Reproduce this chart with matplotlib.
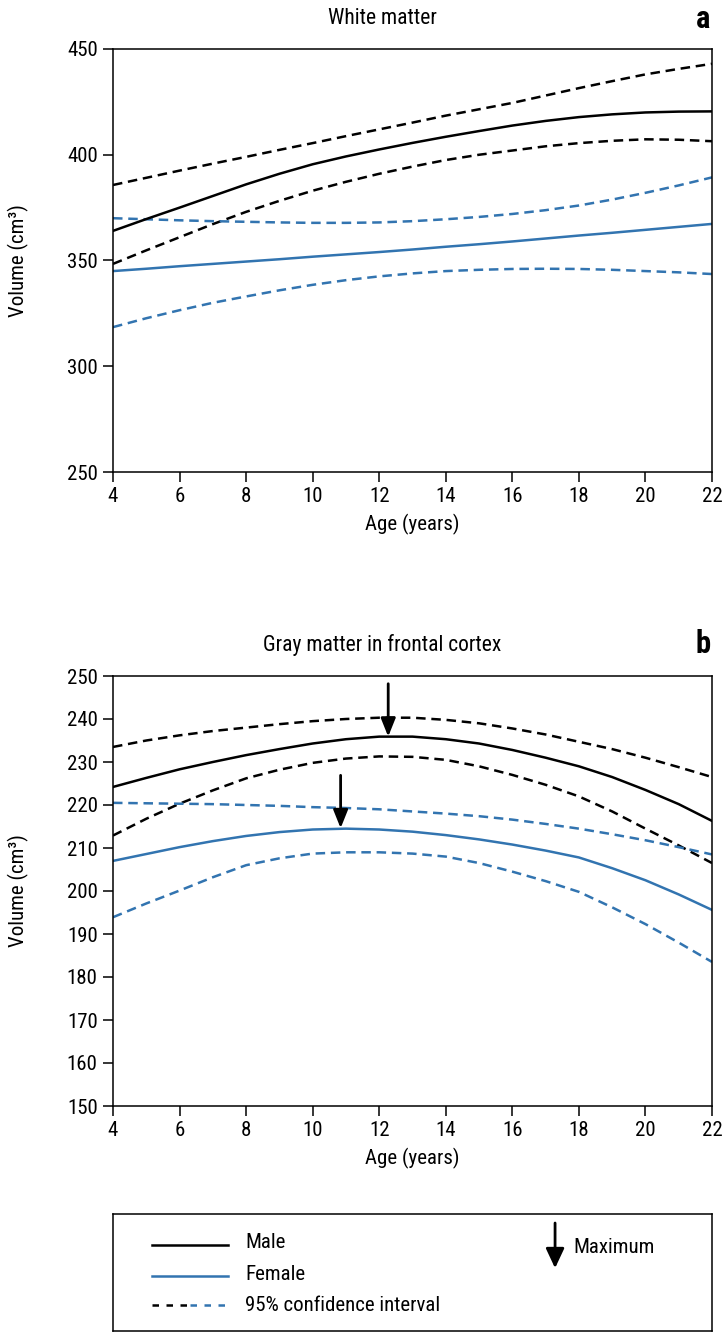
import matplotlib
matplotlib.use("Agg")
import matplotlib.pyplot as plt

plt.rcParams["font.family"] = ["Roboto Condensed", "Liberation Sans Narrow",
                               "Liberation Sans", "DejaVu Sans"]

age = list(range(4, 23))

# panel a: white matter volume (cm3)
wm_male = [364, 369.6, 375, 380.5, 386, 391, 395.5, 399.2, 402.5, 405.6,
           408.5, 411.2, 413.8, 416, 417.8, 419.1, 420, 420.4, 420.5]
wm_male_hi = [385.7, 389.1, 392.5, 395.8, 399, 402.3, 405.5, 408.8, 412, 415.2,
              418.5, 421.5, 424.5, 428, 431.5, 434.8, 438, 440.6, 443]
wm_male_lo = [348.4, 354.8, 361, 367.2, 373, 378.2, 383, 387.2, 391, 394.4,
              397.5, 400, 402, 404, 405.5, 406.6, 407.3, 407.1, 406.4]
wm_female = [345, 346.1, 347.3, 348.4, 349.5, 350.6, 351.8, 352.9, 354, 355.2,
             356.5, 357.7, 359, 360.4, 361.8, 363.1, 364.5, 365.9, 367.3]
wm_female_hi = [370, 369.5, 369, 368.6, 368.3, 368, 367.8, 367.8, 368, 368.6,
                369.5, 370.6, 372, 373.8, 376, 378.8, 382, 385.5, 389.3]
wm_female_lo = [318.5, 322.7, 326.5, 330, 333, 335.9, 338.5, 340.7, 342.5, 343.9,
                345, 345.6, 346, 346.1, 346, 345.6, 345, 344.4, 343.6]

# panel b: frontal gray matter volume (cm3)
gm_male = [224.2, 226.3, 228.3, 230, 231.6, 233, 234.3, 235.3, 235.9, 235.9,
           235.3, 234.3, 232.8, 231, 229, 226.5, 223.5, 220.2, 216.3]
gm_male_hi = [233.5, 235, 236.2, 237.2, 238, 238.8, 239.5, 240, 240.3, 240.3,
              239.8, 239, 237.8, 236.4, 234.7, 233, 231, 228.8, 226.5]
gm_male_lo = [212.9, 216.8, 220.3, 223.4, 226.2, 228.2, 229.8, 230.8, 231.3, 231.2,
              230.5, 229, 227, 224.7, 222, 218.5, 214.5, 210.6, 206.5]
gm_female = [207, 208.6, 210.2, 211.6, 212.8, 213.7, 214.3, 214.5, 214.3, 213.8,
             213, 212, 210.8, 209.4, 207.8, 205.3, 202.5, 199.2, 195.6]
gm_female_hi = [220.5, 220.4, 220.3, 220.2, 220, 219.8, 219.5, 219.3, 219, 218.5,
                218, 217.4, 216.6, 215.6, 214.5, 213.2, 211.8, 210.2, 208.5]
gm_female_lo = [193.9, 197.1, 200.1, 203.2, 206, 207.6, 208.7, 209, 209, 208.7,
                208, 206.5, 204.5, 202.3, 199.8, 196.2, 192.3, 188, 183.5]

# maxima marked by arrows in panel b (age, volume)
gm_male_peak = (12.27, 235.9)
gm_female_peak = (10.84, 214.6)

x_ticks = [4, 6, 8, 10, 12, 14, 16, 18, 20, 22]
wm_yticks = [250, 300, 350, 400, 450]
gm_yticks = [150, 160, 170, 180, 190, 200, 210, 220, 230, 240, 250]

BLUE = "#3274b0"
DASH = (0, (3.8, 2.3))
LW = 1.8
FS = 15

W, H = 722, 1333
fig = plt.figure(figsize=(W / 100, H / 100), dpi=100)


def px_axes(left, top, right, bottom):
    return fig.add_axes([left / W, 1 - bottom / H, (right - left) / W, (bottom - top) / H])


def style_axes(ax, yticks, ylim):
    ax.set_xlim(4, 22)
    ax.set_ylim(*ylim)
    ax.set_xticks(x_ticks)
    ax.set_yticks(yticks)
    ax.tick_params(direction="out", length=7, width=1.1, labelsize=FS, pad=4,
                   top=False, right=False)
    for s in ax.spines.values():
        s.set_linewidth(1.1)
    ax.set_xlabel("Age (years)", fontsize=FS)
    ax.set_ylabel("Volume (cm³)", fontsize=FS)
    ax.yaxis.set_label_coords(-0.14, 0.5)


def draw_set(ax, m, mhi, mlo, f, fhi, flo):
    ax.plot(age, mhi, color="black", lw=LW, ls=DASH)
    ax.plot(age, mlo, color="black", lw=LW, ls=DASH)
    ax.plot(age, fhi, color=BLUE, lw=LW, ls=DASH)
    ax.plot(age, flo, color=BLUE, lw=LW, ls=DASH)
    ax.plot(age, m, color="black", lw=LW)
    ax.plot(age, f, color=BLUE, lw=LW)


# panel a
ax1 = px_axes(113, 49, 712, 472)
draw_set(ax1, wm_male, wm_male_hi, wm_male_lo, wm_female, wm_female_hi, wm_female_lo)
style_axes(ax1, wm_yticks, (250, 450))
ax1.xaxis.set_label_coords(0.5, -0.1)
ax1.text(0.45, 1.073, "White matter", transform=ax1.transAxes, ha="center",
         va="center", fontsize=15.5)
ax1.text(0.985, 1.07, "a", transform=ax1.transAxes, ha="center", va="center",
         fontsize=22, fontweight="bold")

# panel b
ax2 = px_axes(113, 676, 712, 1106)
draw_set(ax2, gm_male, gm_male_hi, gm_male_lo, gm_female, gm_female_hi, gm_female_lo)
style_axes(ax2, gm_yticks, (150, 250))
ax2.xaxis.set_label_coords(0.5, -0.098)
ax2.text(0.45, 1.072, "Gray matter in frontal cortex", transform=ax2.transAxes,
         ha="center", va="center", fontsize=15.5)
ax2.text(0.985, 1.075, "b", transform=ax2.transAxes, ha="center", va="center",
         fontsize=22, fontweight="bold")

arrow_style = "-|>,head_length=0.55,head_width=0.22"
for px, py in (gm_male_peak, gm_female_peak):
    ax2.annotate("", xy=(px, py), xytext=(px, py + 12.3),
                 arrowprops=dict(arrowstyle=arrow_style, color="black", lw=2,
                                 shrinkA=0, shrinkB=0, mutation_scale=20))

# legend box
axl = px_axes(113, 1214, 712, 1331)
axl.set_xlim(0, 1)
axl.set_ylim(0, 1)
axl.set_xticks([])
axl.set_yticks([])
for s in axl.spines.values():
    s.set_linewidth(1.1)

axl.plot([0.0646, 0.1925], [0.737, 0.737], color="black", lw=LW)
axl.plot([0.0646, 0.1925], [0.471, 0.471], color=BLUE, lw=LW)
axl.plot([0.0646, 0.1285], [0.223, 0.223], color="black", lw=LW, ls=(0, (2.6, 3.0)))
axl.plot([0.1285, 0.1925], [0.223, 0.223], color=BLUE, lw=LW, ls=(0, (2.6, 3.0)))
axl.text(0.2204, 0.757, "Male", fontsize=FS, va="center")
axl.text(0.2204, 0.481, "Female", fontsize=FS, va="center")
axl.text(0.2204, 0.215, "95% confidence interval", fontsize=FS, va="center")

axl.annotate("", xy=(0.738, 0.537), xytext=(0.738, 0.923),
             arrowprops=dict(arrowstyle="-|>,head_length=0.6,head_width=0.28",
                             color="black", lw=2, shrinkA=0, shrinkB=0,
                             mutation_scale=20))
axl.text(0.769, 0.714, "Maximum", fontsize=FS, va="center")

fig.savefig("out.png", dpi=100)
